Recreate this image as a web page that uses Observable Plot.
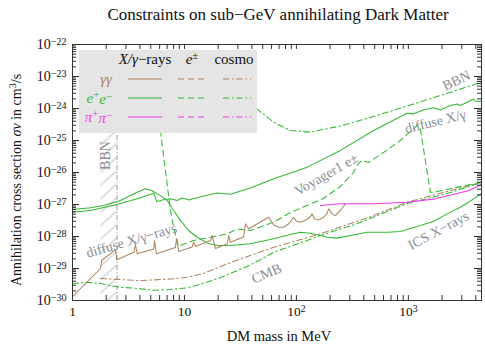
<!DOCTYPE html>
<html><head><meta charset="utf-8">
<script src="https://cdn.jsdelivr.net/npm/d3@7"></script>
<script src="https://cdn.jsdelivr.net/npm/@observablehq/plot@0.6"></script>
<style>
body{margin:0;background:#fff}
svg{font-family:"Liberation Serif","Times New Roman",serif}
</style>
</head><body><div id="chart"></div>
<script>
// ---------- data (DM mass in MeV, <σv> in cm^3/s) ----------
const xDomain = [1, 4500];
const yDomain = [1e-30, 1e-22];
const xMajorTicks = [1, 10, 100, 1000];
const yMajorTicks = [1e-30,1e-29,1e-28,1e-27,1e-26,1e-25,1e-24,1e-23,1e-22];

const bbnExcluded = {mMin: 1.8, mMax: 2.5, sMax: 1e-24};

// γγ, X/γ-rays (solid)
const ggXray = [[1,1.33e-30],[1.78,1.0e-29],[1.82,1.78e-29],[2.42,3.8e-29],[2.49,1.87e-29],[3.53,3.2e-29],[3.65,5.6e-29],[3.78,2.9e-29],[5.32,4.1e-29],[5.4,7.5e-29],[5.62,2.9e-29],[8.3,4.5e-29],[8.5,8.5e-29],[8.9,3.4e-29],[11.7,4.7e-29],[12.1,6.6e-29],[12.5,4.9e-29],[17.1,7.5e-29],[17.7,1.07e-28],[18.9,4.2e-29],[24.1,5.9e-29],[24.9,1.07e-28],[25.7,6.6e-29],[33.8,9.6e-29],[35.1,2.5e-28],[37.5,1.74e-28],[56.6,4.0e-28],[58.6,3.3e-28],[62.7,2.3e-28],[69.5,1.95e-28],[77.1,1.95e-28],[85.4,2.5e-28],[94.6,4.0e-28],[100,3.0e-28],[108.6,2.8e-28],[120,3.2e-28],[131.5,4.0e-28],[138,5.1e-28],[145,3.6e-28],[158,3.3e-28],[175,4.0e-28],[188,5.3e-28],[194,7.3e-28],[208,5.1e-28],[223,4.5e-28],[247,6.5e-28],[274,1.05e-27]];
// γγ, cosmo CMB (dash-dot)
const ggCMB = [[1.78,4.9e-30],[2.68,4.5e-30],[3.78,4.2e-30],[5.3,4.4e-30],[7.5,4.7e-30],[10.6,5.3e-30],[14.8,7.0e-30],[21,1.15e-29],[31.6,2.0e-29],[62.7,4.6e-29],[164,1.21e-28],[490,4.5e-28],[973,1.18e-27],[4487,4.9e-27]];
// e+e-, X/γ-rays: low-mass bump + ICS X-rays (solid)
const eeXrayICS = [[1,7.0e-28],[1.45,7.9e-28],[1.9,9.3e-28],[2.68,1.33e-27],[3.78,2.4e-27],[4.48,3.1e-27],[5.15,2.7e-27],[6.1,1.9e-27],[7.0,1.33e-27],[8.0,6.5e-28],[9.2,3.2e-28],[10.9,1.54e-28],[13,9.5e-29],[16,6.2e-29],[19.6,5.2e-29],[25.7,5.2e-29],[38.8,5.9e-29],[62.7,8.5e-29],[88.4,1.15e-28],[108.6,1.36e-28],[133,1.27e-28],[164,1.07e-28],[188,9.5e-29],[231,8.9e-29],[303,1.07e-28],[428,1.36e-28],[645,1.36e-28],[849,1.43e-28],[1280,2.2e-28],[1683,3.0e-28],[2218,5.1e-28],[2911,8.2e-28],[3830,1.5e-27],[4487,2.16e-27]];
// e+e-, diffuse X/γ (solid)
const eeXrayDiffuse = [[1,5.75e-28],[1.45,6.5e-28],[2.5,1.0e-27],[3.78,1.5e-27],[5.32,2.25e-27],[5.66,1.24e-27],[6.5,1.4e-27],[7.5,1.5e-27],[8.6,1.33e-27],[9.6,1.6e-27],[10.9,1.38e-27],[14.9,1.85e-27],[19.6,2.3e-27],[25.7,2.1e-27],[38.8,3.3e-27],[62.7,6.4e-27],[125,1.47e-26],[247,4.9e-26],[490,2.05e-25],[973,7.1e-25],[1115,6.8e-25],[1370,9.1e-25],[1683,1.05e-24],[1930,9.0e-25],[2371,1.24e-24],[2722,1.38e-24],[2911,1.24e-24],[3830,1.98e-24],[3963,1.69e-24],[4487,1.69e-24]];
// e+e-, Voyager1 e± (dashed)
const eeVoyager = [[5.66,1.78e-24],[6.1,2.05e-25],[6.53,3.0e-26],[7.0,4.4e-27],[7.5,6.5e-28],[8.0,1.95e-28],[8.6,7.5e-29],[8.8,5.0e-29],[12.1,7.5e-29],[17.1,9.5e-29],[24.1,1.21e-28],[29.5,1.71e-28],[38.8,1.54e-28],[62.7,2.8e-28],[88.4,5.6e-28],[174,1.54e-27],[247,3.65e-27],[323,1.0e-26],[358,1.9e-26],[388,2.4e-26],[439,2.05e-26],[598,4.2e-26],[849,1.0e-25],[1109,2.3e-25],[1202,2.95e-25],[1280,2.3e-25],[1572,2.4e-27],[1683,2.4e-27],[4487,5.0e-27]];
// e+e-, cosmo BBN (dash-dot)
const eeBBN = [[35.1,1.78e-24],[46.1,8.7e-25],[62.7,3.7e-25],[88.4,2.05e-25],[133,1.82e-25],[247,2.84e-25],[490,5.6e-25],[979,1.2e-24],[1930,2.55e-24],[4487,6.6e-24]];
// e+e-, cosmo CMB (dash-dot)
const eeCMB = [[1,3.4e-30],[1.35,3.7e-30],[1.78,3.4e-30],[2.18,2.9e-30],[2.68,2.6e-30],[3.65,2.4e-30],[5.3,2.1e-30],[7.5,2.2e-30],[10.6,2.5e-30],[13.9,3.2e-30],[21,5.2e-30],[38.8,1.29e-29],[62.7,3.2e-29],[164,1.07e-28],[351,2.55e-28],[979,1.07e-27],[2230,2.2e-27],[4487,4.9e-27]];
// π+π-, X/γ-rays (solid)
const pipiXray = [[164,9.3e-28],[247,1.05e-27],[490,1.05e-27],[973,1.18e-27],[1742,1.5e-27],[3433,2.7e-27],[4487,4.2e-27]];

// in-plot labels: mass, σv, text, angle
const annotations = [
  {m: 2684, s: 7.5e-24, text: "BBN", angle: -25},
  {m: 1742, s: 3.9e-25, text: "diffuse X/γ", angle: -14},
  {m: 185, s: 8.7e-27, text: "Voyager1 e±", angle: -30},
  {m: 3.36, s: 7.5e-29, text: "diffuse X/γ−rays", angle: -16},
  {m: 54, s: 7.0e-30, text: "CMB", angle: -23},
  {m: 1853, s: 1.54e-28, text: "ICS X−rays", angle: -28},
  {m: 1.97, s: 3.4e-26, text: "BBN", angle: -90}
];

const titleText = "Constraints on sub−GeV annihilating Dark Matter";
const legendColumns = ["X/γ−rays", "e±", "cosmo"];
const legendRows = ["γγ", "e+e−", "π+π−"];

// ---------- styles ----------
const BROWN = "#ad8460", GREEN = "#33b833", MAGENTA = "#ea3cea", LABEL = "#8a8e94", AX = "#333";
const DASH = "6,4", DASHDOT = "6,3,1.5,3";

const xAllTicks = d3.range(0, 4).flatMap(e => d3.range(1, 10).map(k => k * Math.pow(10, e))).filter(v => v <= xDomain[1]);
const yAllTicks = d3.range(-30, -22).flatMap(e => d3.range(1, 10).map(k => k * Math.pow(10, e)));
const isMajor = v => Math.abs(Math.log10(v) - Math.round(Math.log10(v))) < 1e-9;

const W = 485, H = 344, ML = 72, MR = 4, MT = 44, MB = 44;
const PW = W - ML - MR, PH = H - MT - MB;

const fmt = v => {
  const e = Math.round(Math.log10(v));
  if (e === 0) return "1";
  if (e === 1) return "10";
  return "10^" + (e < 0 ? "−" + (-e) : e);
};

const line = (data, stroke, dash) => Plot.line(data, {x: d => d[0], y: d => d[1], stroke, strokeWidth: 1.05, strokeDasharray: dash});

const svgNode = Plot.plot({
  width: W, height: H,
  marginLeft: ML, marginRight: MR, marginTop: MT, marginBottom: MB,
  style: {fontFamily: '"Liberation Serif","Times New Roman",serif', background: "white", color: "#111"},
  x: {type: "log", domain: xDomain},
  y: {type: "log", domain: yDomain},
  marks: [
    Plot.rect([bbnExcluded], {x1: d => d.mMin, x2: d => d.mMax, y1: () => yDomain[0], y2: d => d.sMax, fill: "#123456", ariaLabel: "bbn-hatch"}),
    Plot.ruleX([bbnExcluded], {x: d => d.mMax, y1: () => yDomain[0], y2: d => d.sMax, stroke: "#9a9a9a", strokeDasharray: "5,2,1,2"}),
    line(ggCMB, BROWN, DASHDOT),
    line(eeCMB, GREEN, DASHDOT),
    line(eeBBN, GREEN, DASHDOT),
    line(eeXrayICS, GREEN),
    line(eeXrayDiffuse, GREEN),
    line(eeVoyager, GREEN, DASH),
    line(pipiXray, MAGENTA),
    line(ggXray, BROWN),
    Plot.text(annotations, {x: "m", y: "s", text: "text", rotate: "angle", fill: LABEL, fontSize: 14, textAnchor: "middle", lineAnchor: "middle"}),
    Plot.frame({stroke: AX}),
    Plot.tickX(xAllTicks, {x: d => d, insetTop: PH - 5, stroke: AX}),
    Plot.tickX(xAllTicks, {x: d => d, insetBottom: PH - 5, stroke: AX}),
    Plot.tickY(yAllTicks.filter(v => !isMajor(v)), {y: d => d, insetRight: PW - 4, stroke: AX}),
    Plot.tickY(yAllTicks.filter(v => !isMajor(v)), {y: d => d, insetLeft: PW - 4, stroke: AX}),
    Plot.tickY(yMajorTicks, {y: d => d, insetRight: PW - 7, stroke: AX}),
    Plot.tickY(yMajorTicks, {y: d => d, insetLeft: PW - 7, stroke: AX}),
    Plot.axisX(xMajorTicks, {tickSize: 0, tickPadding: 6, tickFormat: fmt, fontSize: 13.5, label: null}),
    Plot.axisY(yMajorTicks, {tickSize: 0, tickPadding: 6, tickFormat: fmt, fontSize: 14, label: null})
  ]
});

document.getElementById("chart").appendChild(svgNode);
const svg = d3.select(svgNode);

// superscripts in tick labels
svg.selectAll('g[aria-label="x-axis tick label"] text, g[aria-label="y-axis tick label"] text').each(function () {
  const t = this.textContent;
  if (t.includes("^")) {
    const [b, e] = t.split("^");
    const s = d3.select(this);
    s.text(b);
    s.append("tspan").attr("dy", "-0.42em").attr("font-size", "0.72em").text(e);
  }
});

// hatch pattern for the BBN-excluded strip
const defs = svg.insert("defs", ":first-child");
const pat = defs.append("pattern").attr("id", "bbnHatch").attr("patternUnits", "userSpaceOnUse")
  .attr("width", 10).attr("height", 10).attr("patternTransform", "rotate(48)");
pat.append("line").attr("x1", 5).attr("x2", 5).attr("y1", 0).attr("y2", 10).attr("stroke", "#b8b8b8").attr("stroke-width", 0.9);
svg.selectAll('g[aria-label="bbn-hatch"], g[fill="#123456"]').attr("fill", "url(#bbnHatch)");
svg.selectAll('g[aria-label="bbn-hatch"] rect').attr("fill", "url(#bbnHatch)");

// rich text helper
function rich(sel, parts) {
  parts.forEach(p => {
    const ts = sel.append("tspan").text(p.t);
    if (p.i) ts.attr("font-style", "italic");
    if (p.sup) ts.attr("font-size", "0.72em").attr("dy", "-0.45em");
    if (p.down) ts.attr("dy", p.down);
  });
}

// title
svg.append("text").attr("x", 278).attr("y", 20).attr("text-anchor", "middle").attr("font-size", 17).attr("fill", "#111").text(titleText);

// x label
svg.append("text").attr("x", 279).attr("y", 341).attr("text-anchor", "middle").attr("font-size", 14.5).attr("fill", "#111").text("DM mass in MeV");

// y label
const yl = svg.append("text").attr("transform", "translate(21,180) rotate(-90)").attr("text-anchor", "middle").attr("font-size", 14).attr("fill", "#111");
rich(yl, [{t: "Annihilation cross section "}, {t: "σv", i: true}, {t: " in cm"}, {t: "3", sup: true}, {t: "/s", down: "0.32em"}]);

// legend
const lg = svg.append("g");
lg.append("rect").attr("x", 79).attr("y", 50).attr("width", 178).attr("height", 83).attr("fill", "#e5e5e5");
const colX = [145, 192, 234];
const h1 = lg.append("text").attr("x", colX[0]).attr("y", 64).attr("text-anchor", "middle").attr("font-size", 15).attr("fill", "#111");
rich(h1, [{t: "X/γ", i: true}, {t: "−rays"}]);
const h2 = lg.append("text").attr("x", colX[1]).attr("y", 64).attr("text-anchor", "middle").attr("font-size", 15).attr("fill", "#111");
rich(h2, [{t: "e", i: true}, {t: "±", sup: true}]);
lg.append("text").attr("x", colX[2]).attr("y", 64).attr("text-anchor", "middle").attr("font-size", 15).attr("fill", "#111").text(legendColumns[2]);

const rowY = [79, 98, 117];
const rowColors = [BROWN, GREEN, MAGENTA];
const rowParts = [
  [{t: "γγ", i: true}],
  [{t: "e", i: true}, {t: "+", sup: true}, {t: "e", i: true, down: "0.45em"}, {t: "−", sup: true}],
  [{t: "π", i: true}, {t: "+", sup: true}, {t: "π", i: true, down: "0.45em"}, {t: "−", sup: true}]
];
rowY.forEach((y, i) => {
  const t = lg.append("text").attr("x", 112).attr("y", y + 4.5).attr("text-anchor", "end").attr("font-size", 15).attr("fill", rowColors[i]);
  rich(t, rowParts[i]);
  lg.append("line").attr("x1", 128).attr("x2", 162).attr("y1", y).attr("y2", y).attr("stroke", rowColors[i]).attr("stroke-width", 1.05);
  lg.append("line").attr("x1", 178).attr("x2", 206).attr("y1", y).attr("y2", y).attr("stroke", rowColors[i]).attr("stroke-width", 1.05).attr("stroke-dasharray", DASH);
  lg.append("line").attr("x1", 223).attr("x2", 251).attr("y1", y).attr("y2", y).attr("stroke", rowColors[i]).attr("stroke-width", 1.05).attr("stroke-dasharray", DASHDOT);
});
</script>
</body></html>
